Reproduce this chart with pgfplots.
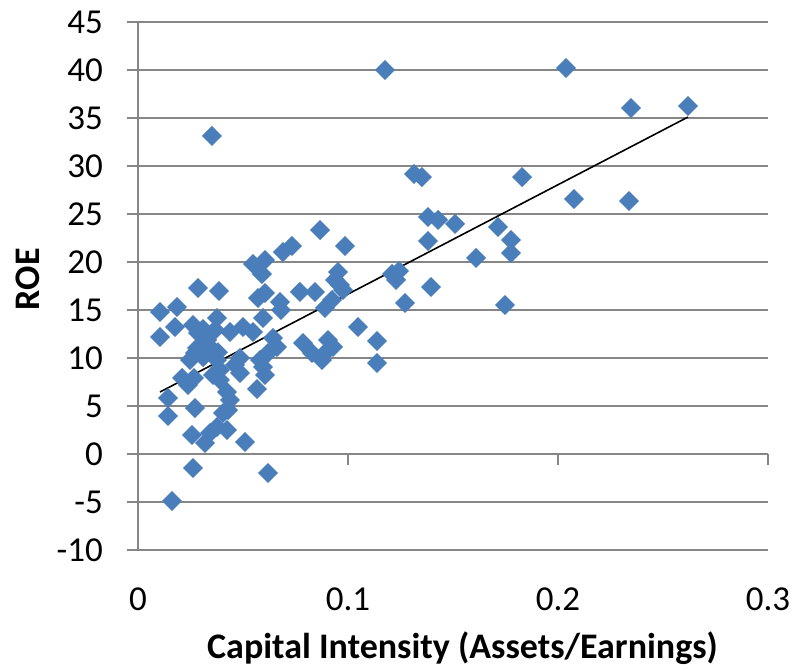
\documentclass[border=0pt]{standalone}
\usepackage{pgfplots}
\pgfplotsset{compat=1.18}
\usepackage{fontspec}
\setmainfont{Carlito}

\definecolor{excelblue}{HTML}{4A7EBB}
\definecolor{gridgray}{HTML}{868686}

\pgfplotstableread{
x      y
0.0105 14.79
0.0105 12.19
0.0143 5.83
0.0143 3.96
0.0162 -4.90
0.0186 15.31
0.0176 13.23
0.0352 33.13
0.0286 17.29
0.0386 16.98
0.0262 -1.46
0.0257 1.98
0.0319 1.15
0.0343 2.19
0.0376 2.81
0.0424 2.50
0.0510 1.25
0.0619 -1.98
0.1176 40.00
0.2038 40.21
0.2348 36.04
0.2619 36.25
0.1314 29.17
0.1352 28.85
0.1829 28.85
0.2076 26.56
0.2338 26.35
0.1381 24.69
0.1429 24.38
0.1510 23.96
0.1381 22.19
0.1714 23.65
0.1776 22.29
0.1776 20.94
0.1610 20.42
0.1748 15.52
0.1395 17.40
0.1271 15.73
0.1243 19.06
0.1210 18.75
0.1229 18.13
0.1138 11.77
0.1138 9.48
0.1048 13.23
0.0986 21.67
0.0867 23.33
0.0733 21.67
0.0690 21.04
0.0548 19.79
0.0605 20.21
0.0590 18.75
0.0571 16.25
0.0605 16.77
0.0676 15.83
0.0681 15.00
0.0771 16.88
0.0843 16.88
0.0952 18.96
0.0938 18.13
0.0962 17.60
0.0976 17.08
0.0890 15.21
0.0924 16.04
0.0595 14.17
0.0500 13.23
0.0548 12.71
0.0643 12.08
0.0662 11.15
0.0619 10.52
0.0581 9.79
0.0595 9.06
0.0605 8.23
0.0786 11.56
0.0829 10.52
0.0905 11.88
0.0929 11.15
0.0890 10.52
0.0876 9.79
0.0567 6.77
0.0486 10.00
0.0462 9.27
0.0486 8.44
0.0262 13.44
0.0286 12.60
0.0376 14.17
0.0367 12.92
0.0438 12.71
0.0329 11.88
0.0281 11.04
0.0271 10.52
0.0310 10.10
0.0248 9.79
0.0343 11.15
0.0376 9.79
0.0390 8.75
0.0357 8.23
0.0390 7.71
0.0210 7.92
0.0238 7.19
0.0267 7.92
0.0424 6.46
0.0438 5.63
0.0405 4.27
0.0429 4.58
0.0271 4.79
0.0310 13.02
0.0381 10.60
}\roedata

\begin{document}
\begin{tikzpicture}
\useasboundingbox (-138bp,-121bp) rectangle (655bp,550bp);
\begin{axis}[
    at={(0,0)}, anchor=south west,
    scale only axis,
    width=630bp, height=528bp,
    xmin=0, xmax=0.3,
    ymin=-10, ymax=45,
    xtick={0,0.1,0.2,0.3},
    ytick={-10,-5,...,45},
    xticklabels={0,0.1,0.2,0.3},
    axis lines*=left,
    x axis line style={draw=none},
    y axis line style={gridgray, line width=1.5bp},
    xtick style={draw=none},
    ytick style={gridgray, line width=1.5bp},
    tick align=outside,
    major tick length=11bp,
    ymajorgrids=true,
    grid style={gridgray, line width=1.5bp},
    tick label style={font=\fontsize{35bp}{40bp}\selectfont},
    /pgf/number format/assume math mode=true,
    xticklabel style={anchor=north, inner sep=0pt, yshift=-27bp},
    yticklabel style={anchor=east, inner sep=0pt, xshift=-24bp},
    xlabel={\textbf{Capital Intensity (Assets/Earnings)}},
    label style={font=\fontsize{36bp}{40bp}\selectfont},
    xlabel style={at={(axis description cs:0.515,0)}, anchor=base, inner sep=0pt, yshift=-108bp},
    clip=false,
]
\addplot[only marks, mark=square*, mark size=6.8bp,
    mark options={rotate=45, fill=excelblue, draw=excelblue, line width=0.4bp}]
    table[x=x, y=y] {\roedata};
\addplot[black, line width=1.6bp, no marks] coordinates {(0.0105,6.46) (0.2619,35.1)};
% x axis sits on y=0 with downward ticks
\draw[gridgray, line width=1.5bp] (axis cs:0,0) -- ([yshift=-11bp]axis cs:0,0);
\draw[gridgray, line width=1.5bp] (axis cs:0.1,0) -- ([yshift=-11bp]axis cs:0.1,0);
\draw[gridgray, line width=1.5bp] (axis cs:0.2,0) -- ([yshift=-11bp]axis cs:0.2,0);
\draw[gridgray, line width=1.5bp] (axis cs:0.3,0) -- ([yshift=-11bp]axis cs:0.3,0);
\node[rotate=90, anchor=center, font=\fontsize{36bp}{40bp}\selectfont\bfseries]
    at ([xshift=-110bp]rel axis cs:0,0.513) {ROE};
\end{axis}
\end{tikzpicture}
\end{document}
